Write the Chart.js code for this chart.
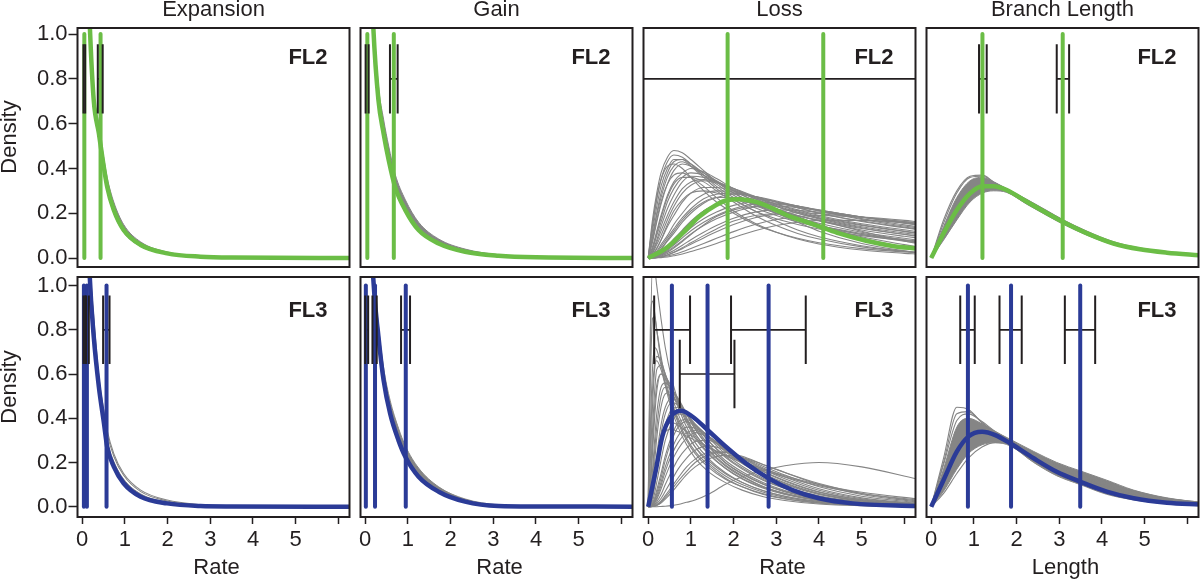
<!DOCTYPE html>
<html><head><meta charset="utf-8">
<script src="https://cdn.jsdelivr.net/npm/chart.js@4.4.1/dist/chart.umd.min.js"></script>
<style>
html,body{margin:0;padding:0;background:#fff;width:1200px;height:581px;overflow:hidden}
canvas{position:absolute;left:0;top:0}
</style></head>
<body>
<div id="wrap"></div>
<script>
// ---------- labels & ticks ----------
const columnTitles = ['Expansion', 'Gain', 'Loss', 'Branch Length'];
const rowTags = ['FL2', 'FL3'];
const xTitles = ['Rate', 'Rate', 'Rate', 'Length'];
const yTitle = 'Density';
const xTicks = [0, 1, 2, 3, 4, 5, 6];
const xTickLabels = ['0', '1', '2', '3', '4', '5', ''];
const yTicks = [0, 0.2, 0.4, 0.6, 0.8, 1.0];

// ---------- Expansion FL2 ----------
const expFL2_x     = [0.1, 0.18, 0.27, 0.39, 0.47, 0.585, 0.74, 0.97, 1.37, 1.99, 2.77, 3.5, 6.3];
const expFL2_fit   = [1.5, 1.03, 0.705, 0.557, 0.452, 0.318, 0.214, 0.125, 0.058, 0.021, 0.006, 0.002, 0];
const expFL2_hi    = [1.6, 1.1, 0.75, 0.6, 0.49, 0.36, 0.25, 0.15, 0.072, 0.027, 0.008, 0.003, 0];
const expFL2_lo    = [1.45, 1.0, 0.68, 0.535, 0.43, 0.3, 0.2, 0.115, 0.052, 0.018, 0.005, 0.001, 0];
const expFL2_est   = [0.05, 0.43];
const expFL2_ciLo  = [0.03, 0.365];
const expFL2_ciHi  = [0.07, 0.48];
const expFL2_ciY   = [0.8, 0.8];

// ---------- Gain FL2 ----------
const gainFL2_x    = [0.1, 0.19, 0.31, 0.43, 0.55, 0.70, 0.94, 1.25, 1.72, 2.34, 3.12, 4, 6.3];
const gainFL2_fit  = [1.5, 1.03, 0.705, 0.557, 0.4375, 0.318, 0.214, 0.125, 0.065, 0.028, 0.01, 0.003, 0];
const gainFL2_hi   = [1.6, 1.1, 0.77, 0.62, 0.5, 0.375, 0.26, 0.16, 0.085, 0.04, 0.015, 0.005, 0];
const gainFL2_lo   = [1.45, 1.0, 0.69, 0.54, 0.42, 0.305, 0.205, 0.12, 0.062, 0.026, 0.009, 0.003, 0];
const gainFL2_est  = [0.05, 0.67];
const gainFL2_ciLo = [0.01, 0.58];
const gainFL2_ciHi = [0.08, 0.76];
const gainFL2_ciY  = [0.8, 0.8];

// ---------- Loss FL2 ----------
const lossFL2_x    = [0, 0.41, 0.80, 1.19, 1.59, 1.86, 2.13, 2.52, 2.91, 3.30, 3.69, 4.10, 4.47, 5.10, 5.72, 6.3];
const lossFL2_fit  = [0, 0.043, 0.11, 0.184, 0.237, 0.259, 0.263, 0.251, 0.222, 0.187, 0.162, 0.135, 0.11, 0.077, 0.054, 0.042];
const lossFL2_grayX = [0, 0.1, 0.2, 0.3, 0.45, 0.6, 0.8, 1, 1.3, 1.6, 2, 2.5, 3, 3.5, 4, 5, 6, 6.3];
const lossFL2_gray = [
  [0, .17, .29, .38, .45, .48, .47, .44, .39, .34, .29, .24, .2, .17, .145, .105, .075, .068],
  [0, .14, .26, .35, .43, .46, .45, .42, .37, .33, .28, .235, .2, .17, .145, .11, .08, .072],
  [0, .12, .23, .32, .4, .44, .44, .41, .36, .31, .26, .21, .175, .15, .13, .1, .078, .072],
  [0, .1, .2, .29, .38, .43, .44, .42, .38, .34, .29, .245, .21, .18, .155, .115, .088, .08],
  [0, .09, .19, .27, .36, .41, .43, .41, .37, .32, .27, .225, .19, .16, .14, .105, .082, .076],
  [0, .07, .16, .24, .33, .39, .42, .41, .38, .345, .3, .255, .22, .19, .165, .125, .097, .09],
  [0, .05, .12, .19, .28, .34, .38, .40, .385, .355, .31, .265, .23, .2, .175, .135, .105, .097],
  [0, .04, .1, .16, .25, .31, .36, .38, .37, .34, .3, .255, .22, .19, .168, .132, .106, .1],
  [0, .03, .08, .14, .22, .28, .34, .365, .36, .34, .305, .265, .23, .2, .178, .14, .112, .105],
  [0, .025, .07, .12, .19, .25, .31, .34, .35, .34, .31, .27, .235, .205, .18, .145, .118, .11],
  [0, .02, .06, .1, .17, .23, .29, .325, .345, .335, .31, .275, .24, .21, .185, .148, .12, .112],
  [0, .015, .045, .08, .14, .19, .25, .29, .315, .315, .3, .27, .24, .215, .19, .153, .126, .118],
  [0, .01, .03, .06, .1, .15, .2, .245, .285, .3, .295, .275, .25, .225, .2, .163, .135, .127],
  [0, .008, .025, .05, .09, .13, .18, .22, .265, .285, .29, .275, .25, .225, .2, .165, .138, .13],
  [0, .006, .02, .04, .075, .11, .16, .2, .245, .27, .285, .275, .255, .232, .21, .172, .143, .135],
  [0, .004, .014, .028, .055, .085, .125, .165, .21, .24, .265, .265, .25, .232, .212, .176, .148, .14],
  [0, .003, .01, .02, .04, .065, .1, .135, .175, .205, .235, .25, .245, .232, .215, .182, .155, .148],
  [0, .002, .008, .017, .035, .058, .09, .122, .16, .19, .22, .24, .24, .23, .214, .183, .157, .15],
  [0, .002, .007, .014, .03, .05, .078, .108, .145, .175, .205, .228, .232, .225, .212, .183, .158, .152],
  [0, .001, .004, .009, .02, .034, .057, .082, .115, .145, .178, .205, .215, .213, .205, .183, .162, .156],
  [0, .001, .003, .006, .014, .025, .042, .062, .09, .117, .15, .18, .196, .202, .198, .182, .163, .158],
  [0, 0, .002, .004, .009, .016, .028, .043, .065, .088, .118, .15, .172, .185, .19, .183, .168, .162],
  [0, 0, .001, .002, .005, .01, .018, .029, .046, .065, .092, .122, .145, .16, .168, .168, .158, .154],
  [0, .01, .04, .08, .15, .21, .26, .29, .3, .29, .26, .21, .165, .125, .095, .055, .03, .025],
  [0, .005, .02, .04, .08, .12, .17, .21, .25, .27, .27, .245, .21, .175, .145, .095, .06, .05],
  [0, .003, .012, .025, .05, .08, .12, .16, .21, .24, .26, .24, .2, .16, .12, .065, .032, .025],
  [0, .001, .005, .012, .026, .045, .074, .105, .148, .185, .215, .23, .215, .185, .15, .09, .048, .038],
  [0, 0, .002, .006, .014, .026, .046, .068, .1, .13, .165, .19, .198, .188, .168, .12, .076, .064],
  [0, .08, .17, .25, .33, .37, .38, .36, .32, .27, .21, .155, .115, .085, .063, .036, .021, .018],
  [0, .04, .11, .18, .27, .33, .36, .36, .34, .3, .25, .19, .145, .11, .085, .05, .03, .026],
  [0, .15, .27, .35, .41, .42, .4, .36, .3, .25, .2, .15, .115, .088, .068, .042, .027, .024]
];
const lossFL2_est  = [1.86, 4.10];
const lossFL2_ciLo = [-1];
const lossFL2_ciHi = [12];
const lossFL2_ciY  = [0.8];

// ---------- Branch Length FL2 ----------
const brFL2_x   = [0, 0.29, 0.6, 0.91, 1.2, 1.46, 1.77, 2.24, 2.71, 3.08, 3.65, 4.27, 4.89, 5.52, 6.3];
const brFL2_fit = [0, 0.11, 0.214, 0.289, 0.321, 0.321, 0.304, 0.251, 0.20, 0.162, 0.11, 0.065, 0.039, 0.024, 0.012];
const brFL2_hi  = [0, 0.14, 0.27, 0.345, 0.36, 0.34, 0.31, 0.262, 0.212, 0.172, 0.12, 0.073, 0.045, 0.028, 0.015];
const brFL2_lo  = [0, 0.08, 0.17, 0.25, 0.29, 0.3, 0.293, 0.24, 0.19, 0.152, 0.102, 0.059, 0.035, 0.021, 0.01];
const brFL2_gray = [
  [0, 0.17, 0.30, 0.365, 0.37, 0.34, 0.305, 0.255, 0.205, 0.165, 0.113, 0.067, 0.04, 0.024, 0.012],
  [0, 0.155, 0.29, 0.36, 0.365, 0.34, 0.307, 0.258, 0.208, 0.168, 0.116, 0.069, 0.042, 0.026, 0.013]
];
const brFL2_est  = [1.20, 3.08];
const brFL2_ciLo = [1.12, 2.94];
const brFL2_ciHi = [1.30, 3.23];
const brFL2_ciY  = [0.8, 0.8];

// ---------- Expansion FL3 ----------
const expFL3_x    = [0.1, 0.18, 0.27, 0.39, 0.51, 0.585, 0.74, 0.97, 1.37, 1.99, 2.77, 3.5, 6.3];
const expFL3_fit  = [1.5, 1.03, 0.77, 0.543, 0.377, 0.271, 0.181, 0.106, 0.045, 0.015, 0.003, 0.001, 0];
const expFL3_hi   = [1.6, 1.07, 0.79, 0.565, 0.4, 0.3, 0.205, 0.125, 0.058, 0.021, 0.005, 0.001, 0];
const expFL3_lo   = [1.45, 1.0, 0.75, 0.53, 0.365, 0.26, 0.172, 0.1, 0.042, 0.013, 0.003, 0.001, 0];
const expFL3_grayX = [0.18, 0.39, 0.51, 0.585, 0.74, 0.97, 1.37, 1.99, 2.77, 3.5];
const expFL3_gray = [
  [1.08, 0.59, 0.43, 0.345, 0.24, 0.15, 0.075, 0.03, 0.009, 0.002],
  [1.06, 0.575, 0.415, 0.33, 0.228, 0.142, 0.068, 0.026, 0.007, 0.002]
];
const expFL3_est  = [0.04, 0.11, 0.57];
const expFL3_ciLo = [0.03, 0.09, 0.49];
const expFL3_ciHi = [0.07, 0.155, 0.64];
const expFL3_ciY  = [0.8, 0.8, 0.8];

// ---------- Gain FL3 ----------
const gainFL3_x    = [0.1, 0.19, 0.31, 0.43, 0.585, 0.78, 0.94, 1.25, 1.72, 2.34, 3.12, 4, 6.3];
const gainFL3_fit  = [1.5, 1.03, 0.77, 0.573, 0.42, 0.30, 0.226, 0.136, 0.068, 0.023, 0.003, 0.001, 0];
const gainFL3_hi   = [1.6, 1.1, 0.82, 0.63, 0.48, 0.355, 0.275, 0.175, 0.09, 0.035, 0.008, 0.002, 0];
const gainFL3_lo   = [1.45, 1.0, 0.75, 0.56, 0.41, 0.29, 0.218, 0.13, 0.064, 0.021, 0.003, 0.001, 0];
const gainFL3_est  = [0.015, 0.23, 0.95];
const gainFL3_ciLo = [0.0, 0.17, 0.84];
const gainFL3_ciHi = [0.07, 0.27, 1.05];
const gainFL3_ciY  = [0.8, 0.8, 0.8];

// ---------- Loss FL3 ----------
const lossFL3_x   = [0, 0.18, 0.33, 0.53, 0.77, 1.04, 1.39, 1.82, 2.29, 2.82, 3.38, 4.00, 4.78, 6.3];
const lossFL3_fit = [0, 0.166, 0.317, 0.407, 0.434, 0.407, 0.347, 0.271, 0.196, 0.128, 0.075, 0.038, 0.015, 0.003];
const lossFL3_grayX = [0, 0.05, 0.1, 0.15, 0.2, 0.3, 0.4, 0.55, 0.7, 0.9, 1.1, 1.4, 1.8, 2.2, 2.7, 3.2, 4, 5, 6.3];
const lossFL3_gray = [
  [0, .7, 1.1, 1.08, 1.0, .85, .72, .58, .48, .4, .33, .26, .19, .14, .09, .06, .03, .012, .004],
  [0, .8, .93, .88, .8, .66, .55, .44, .36, .28, .22, .16, .11, .075, .045, .028, .012, .004, .001],
  [0, .55, .85, .86, .8, .68, .58, .47, .39, .31, .25, .19, .13, .09, .055, .035, .016, .006, .002],
  [0, .35, .62, .72, .71, .64, .56, .46, .38, .3, .24, .18, .125, .09, .058, .037, .018, .007, .002],
  [0, .28, .52, .64, .66, .62, .55, .47, .4, .33, .27, .21, .15, .11, .072, .047, .024, .01, .003],
  [0, .2, .45, .62, .68, .66, .6, .5, .42, .34, .27, .2, .14, .1, .065, .042, .02, .008, .002],
  [0, .12, .34, .52, .62, .64, .6, .52, .45, .36, .29, .22, .155, .11, .072, .047, .023, .009, .003],
  [0, .1, .28, .45, .55, .6, .58, .52, .46, .38, .31, .24, .175, .128, .087, .058, .029, .012, .004],
  [0, .08, .24, .4, .52, .6, .59, .54, .47, .39, .32, .245, .175, .125, .083, .055, .027, .011, .003],
  [0, .05, .16, .3, .42, .54, .56, .53, .48, .4, .33, .255, .185, .135, .09, .06, .03, .012, .004],
  [0, .04, .13, .25, .36, .5, .54, .53, .49, .42, .35, .275, .2, .15, .103, .07, .036, .015, .005],
  [0, .03, .1, .2, .31, .45, .51, .52, .48, .42, .35, .275, .2, .148, .1, .067, .034, .014, .005],
  [0, .02, .07, .14, .23, .37, .45, .49, .47, .42, .36, .285, .21, .158, .108, .073, .038, .016, .005],
  [0, .015, .055, .11, .19, .33, .42, .47, .46, .42, .37, .3, .23, .175, .122, .085, .046, .02, .007],
  [0, .01, .04, .09, .16, .28, .37, .44, .45, .42, .37, .3, .225, .17, .118, .082, .043, .019, .006],
  [0, .006, .025, .06, .11, .21, .3, .38, .42, .41, .375, .315, .24, .183, .128, .09, .049, .022, .007],
  [0, .004, .016, .04, .075, .15, .23, .32, .38, .395, .37, .32, .25, .195, .14, .1, .055, .025, .008],
  [0, .003, .013, .03, .06, .13, .21, .3, .36, .385, .365, .32, .255, .2, .145, .105, .058, .027, .009],
  [0, .002, .01, .025, .05, .11, .18, .26, .32, .36, .355, .32, .26, .205, .15, .108, .06, .028, .009],
  [0, .002, .008, .02, .04, .095, .16, .235, .29, .335, .345, .32, .265, .212, .158, .115, .065, .031, .01],
  [0, .001, .006, .016, .033, .08, .135, .205, .26, .31, .335, .315, .265, .215, .16, .118, .067, .032, .011],
  [0, .001, .004, .01, .022, .055, .1, .16, .215, .265, .295, .3, .265, .22, .168, .126, .074, .036, .013],
  [0, 0, .002, .006, .014, .037, .07, .12, .17, .22, .255, .275, .258, .222, .175, .134, .081, .04, .015],
  [0, 0, .001, .004, .009, .025, .05, .09, .13, .18, .215, .245, .248, .222, .182, .143, .09, .047, .018],
  [0, 0, .001, .003, .007, .02, .042, .078, .115, .16, .2, .235, .245, .228, .19, .155, .105, .06, .026],
  [0, 0, .001, .002, .005, .016, .034, .065, .1, .145, .18, .215, .232, .222, .19, .155, .1, .055, .022],
  [0, .01, .05, .12, .2, .31, .36, .38, .37, .34, .31, .27, .23, .2, .165, .135, .095, .06, .03],
  [0, .02, .06, .13, .2, .3, .34, .35, .34, .32, .3, .27, .235, .205, .17, .14, .1, .065, .035],
  [0, 0, 0, 0, 0, .001, .002, .005, .01, .02, .03, .055, .1, .135, .165, .185, .2, .18, .125]
];
const lossFL3_est  = [0.555, 1.39, 2.82];
const lossFL3_ciLo = [0.14, 0.74, 1.94];
const lossFL3_ciHi = [0.98, 2.02, 3.69];
const lossFL3_ciY  = [0.8, 0.6, 0.8];

// ---------- Branch Length FL3 ----------
const brFL3_x   = [0, 0.29, 0.6, 0.87, 1.19, 1.5, 1.85, 2.4, 2.94, 3.49, 4.11, 4.74, 5.52, 6.3];
const brFL3_fit = [0, 0.121, 0.249, 0.317, 0.339, 0.324, 0.287, 0.219, 0.158, 0.113, 0.068, 0.038, 0.018, 0.01];
const brFL3_hi  = [0, 0.17, 0.36, 0.4, 0.375, 0.34, 0.305, 0.25, 0.2, 0.162, 0.12, 0.075, 0.04, 0.02];
const brFL3_lo  = [0, 0.07, 0.17, 0.24, 0.28, 0.29, 0.275, 0.2, 0.14, 0.1, 0.056, 0.031, 0.014, 0.007];
const brFL3_gray = [
  [0, 0.22, 0.45, 0.44, 0.38, 0.33, 0.29, 0.23, 0.175, 0.13, 0.085, 0.05, 0.024, 0.011],
  [0, 0.2, 0.42, 0.43, 0.38, 0.335, 0.295, 0.235, 0.18, 0.135, 0.09, 0.053, 0.026, 0.012],
  [0, 0.19, 0.39, 0.42, 0.385, 0.34, 0.3, 0.24, 0.185, 0.14, 0.095, 0.056, 0.028, 0.013],
  [0, 0.06, 0.15, 0.22, 0.27, 0.29, 0.285, 0.24, 0.19, 0.15, 0.11, 0.07, 0.038, 0.02]
];
const brFL3_est  = [0.86, 1.87, 3.49];
const brFL3_ciLo = [0.68, 1.60, 3.13];
const brFL3_ciHi = [1.02, 2.12, 3.84];
const brFL3_ciY  = [0.8, 0.8, 0.8];

// ---------- styling ----------
const GREEN = '#6bbd46', BLUE = '#2b3b97', GRAY = '#858585', INK = '#231f20';
const FONT = '"Liberation Sans", Arial, Helvetica, sans-serif';
const CAP_H = 0.155;

const panels = [
  {r:0,c:0,color:GREEN,x:expFL2_x,fit:expFL2_fit,hi:expFL2_hi,lo:expFL2_lo,est:expFL2_est,ciLo:expFL2_ciLo,ciHi:expFL2_ciHi,ciY:expFL2_ciY},
  {r:0,c:1,color:GREEN,x:gainFL2_x,fit:gainFL2_fit,hi:gainFL2_hi,lo:gainFL2_lo,est:gainFL2_est,ciLo:gainFL2_ciLo,ciHi:gainFL2_ciHi,ciY:gainFL2_ciY},
  {r:0,c:2,color:GREEN,x:lossFL2_x,fit:lossFL2_fit,grayX:lossFL2_grayX,gray:lossFL2_gray,est:lossFL2_est,ciLo:lossFL2_ciLo,ciHi:lossFL2_ciHi,ciY:lossFL2_ciY},
  {r:0,c:3,color:GREEN,x:brFL2_x,fit:brFL2_fit,hi:brFL2_hi,lo:brFL2_lo,grayX:brFL2_x,gray:brFL2_gray,est:brFL2_est,ciLo:brFL2_ciLo,ciHi:brFL2_ciHi,ciY:brFL2_ciY},
  {r:1,c:0,color:BLUE,x:expFL3_x,fit:expFL3_fit,hi:expFL3_hi,lo:expFL3_lo,grayX:expFL3_grayX,gray:expFL3_gray,est:expFL3_est,ciLo:expFL3_ciLo,ciHi:expFL3_ciHi,ciY:expFL3_ciY},
  {r:1,c:1,color:BLUE,x:gainFL3_x,fit:gainFL3_fit,hi:gainFL3_hi,lo:gainFL3_lo,est:gainFL3_est,ciLo:gainFL3_ciLo,ciHi:gainFL3_ciHi,ciY:gainFL3_ciY},
  {r:1,c:2,color:BLUE,x:lossFL3_x,fit:lossFL3_fit,grayX:lossFL3_grayX,gray:lossFL3_gray,est:lossFL3_est,ciLo:lossFL3_ciLo,ciHi:lossFL3_ciHi,ciY:lossFL3_ciY},
  {r:1,c:3,color:BLUE,x:brFL3_x,fit:brFL3_fit,hi:brFL3_hi,lo:brFL3_lo,grayX:brFL3_x,gray:brFL3_gray,est:brFL3_est,ciLo:brFL3_ciLo,ciHi:brFL3_ciHi,ciY:brFL3_ciY}
];

// layout of frames
const frameLeft = [77.5, 360.5, 643.5, 926.5];
const frameW = 272;
const frameTop = [28, 277];
const frameBottom = [267, 517];
const yMin = [-0.040, -0.0466], yMax = [1.027, 1.039];
const xMin = -0.11, xMax = 6.26;
const YW = 77.5, XH = 42;

function pts(xs, ys) { return xs.map((x, i) => ({x: x, y: ys[i]})); }

const deco = {
  id: 'deco',
  afterDraw(chart, args, o) {
    const ctx = chart.ctx, a = chart.chartArea;
    ctx.save();
    ctx.strokeStyle = INK; ctx.lineWidth = 2;
    ctx.strokeRect(a.left, a.top, a.right - a.left, a.bottom - a.top);
    ctx.fillStyle = INK; ctx.textBaseline = 'middle';
    ctx.font = 'bold 22px ' + FONT;
    ctx.textAlign = 'right';
    ctx.fillText(o.tag, a.right - 22, o.tagY);
    ctx.font = '22px ' + FONT;
    ctx.textAlign = 'center';
    const cx = (a.left + a.right) / 2;
    if (o.title) ctx.fillText(o.title, cx, 10);
    if (o.xTitle) ctx.fillText(o.xTitle, cx + 3, 568);
    if (o.yTitle) {
      ctx.translate(10, o.yTitleY); ctx.rotate(-Math.PI / 2);
      ctx.fillText(o.yTitle, 0, 0);
    }
    ctx.restore();
  }
};

const wrap = document.getElementById('wrap');
panels.forEach((p, k) => {
  const cv = document.createElement('canvas');
  cv.width = 1200; cv.height = 581;
  cv.style.width = '1200px'; cv.style.height = '581px';
  wrap.appendChild(cv);

  const ds = [];
  const mono = {cubicInterpolationMode: 'monotone', pointRadius: 0};
  const straight = {tension: 0, pointRadius: 0, fill: false};
  if (p.hi) {
    ds.push(Object.assign({data: pts(p.x, p.hi), borderColor: GRAY, borderWidth: 1, backgroundColor: GRAY, fill: '+1', order: 50}, mono));
    ds.push(Object.assign({data: pts(p.x, p.lo), borderColor: GRAY, borderWidth: 1, fill: false, order: 51}, mono));
  }
  if (p.gray) {
    p.gray.forEach(g => ds.push(Object.assign({data: pts(p.grayX, g), borderColor: GRAY, borderWidth: 1.1, fill: false, order: 45}, mono)));
  }
  ds.push(Object.assign({data: pts(p.x, p.fit), borderColor: p.color, borderWidth: 4.5, fill: false, order: 40}, mono));
  p.ciLo.forEach((lo, i) => {
    ds.push(Object.assign({data: [{x: lo, y: p.ciY[i]}, {x: p.ciHi[i], y: p.ciY[i]}], borderColor: INK, borderWidth: 1.6, order: 30}, straight));
  });
  p.est.forEach(e => {
    ds.push(Object.assign({data: [{x: e, y: 0}, {x: e, y: 1}], borderColor: p.color, borderWidth: 4, borderCapStyle: 'round', order: 20}, straight));
  });
  p.ciLo.forEach((lo, i) => {
    [lo, p.ciHi[i]].forEach(xv => {
      ds.push(Object.assign({data: [{x: xv, y: p.ciY[i] - CAP_H}, {x: xv, y: p.ciY[i] + CAP_H}], borderColor: INK, borderWidth: 2, order: 10}, straight));
    });
  });

  const left = frameLeft[p.c], right = left + frameW;
  const top = frameTop[p.r], bottom = frameBottom[p.r];
  const showY = p.c === 0, showX = p.r === 1;

  new Chart(cv, {
    type: 'line',
    data: {datasets: ds},
    options: {
      responsive: false, animation: false, devicePixelRatio: 1,
      events: [],
      layout: {padding: {
        left: showY ? left - YW : left,
        right: 1200 - right,
        top: top,
        bottom: showX ? 581 - bottom - XH : 581 - bottom
      }},
      plugins: {
        legend: {display: false}, tooltip: {enabled: false},
        deco: {
          tag: rowTags[p.r],
          tagY: p.r === 0 ? 57.5 : 310.5,
          title: p.r === 0 ? columnTitles[p.c] : null,
          xTitle: showX ? xTitles[p.c] : null,
          yTitle: showY ? yTitle : null,
          yTitleY: p.r === 0 ? 137 : 387
        }
      },
      scales: {
        x: {
          type: 'linear', min: xMin, max: xMax, display: showX,
          afterFit: s => { s.height = showX ? XH : 0; },
          afterBuildTicks: s => { s.ticks = xTicks.map(v => ({value: v})); },
          border: {display: false},
          grid: {drawOnChartArea: false, drawTicks: true, tickLength: 7, tickColor: INK, tickWidth: 1.5},
          ticks: {autoSkip: false, maxRotation: 0, padding: 3, color: INK,
                  font: {family: FONT, size: 22},
                  callback: (v) => { const i = xTicks.indexOf(v); return i >= 0 ? xTickLabels[i] : ''; }}
        },
        y: {
          type: 'linear', min: yMin[p.r], max: yMax[p.r], display: showY,
          afterFit: s => { s.width = showY ? YW : 0; },
          afterBuildTicks: s => { s.ticks = yTicks.map(v => ({value: v})); },
          border: {display: false},
          grid: {drawOnChartArea: false, drawTicks: true, tickLength: 9, tickColor: INK, tickWidth: 1.5},
          ticks: {padding: 1, color: INK, font: {family: FONT, size: 22},
                  callback: (v) => Number(v).toFixed(1)}
        }
      }
    },
    plugins: [deco]
  });
});
</script>
</body></html>
